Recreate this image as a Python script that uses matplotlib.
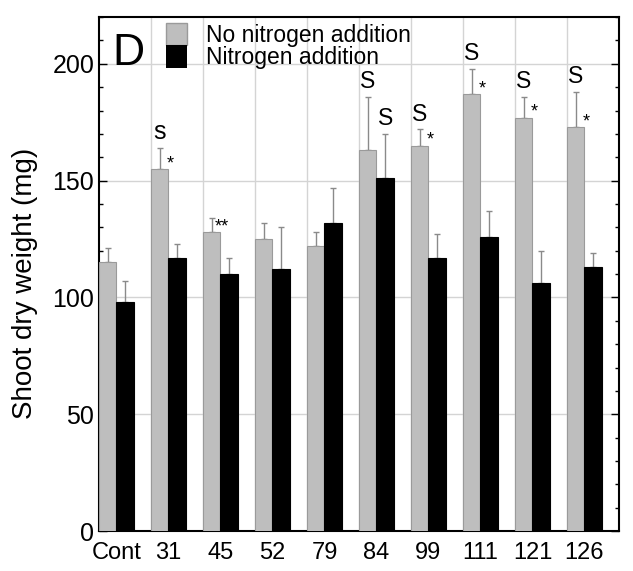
import matplotlib.pyplot as plt
import numpy as np
from matplotlib.ticker import MultipleLocator
from matplotlib.patches import Patch

plt.rcParams['font.family'] = ['Liberation Sans', 'DejaVu Sans']

lines = ['Cont', '31', '45', '52', '79', '84', '99', '111', '121', '126']
no_n = [115, 155, 128, 125, 122, 163, 165, 187, 177, 173]
no_n_err = [6, 9, 6, 7, 6, 23, 7, 11, 9, 15]
with_n = [98, 117, 110, 112, 132, 151, 117, 126, 106, 113]
with_n_err = [9, 6, 7, 18, 15, 19, 10, 11, 14, 6]
# significance marks: above each bar and next to the grey bar
mark_no_n = ['', 's', '', '', '', 'S', 'S', 'S', 'S', 'S']
mark_with_n = ['', '', '', '', '', 'S', '', '', '', '']
stars = ['', '*', '**', '', '', '', '*', '*', '*', '*']

fig = plt.figure(figsize=(6.33, 5.71), dpi=100)
ax = fig.add_axes([0.1564, 0.070, 0.8216, 0.900])

x = np.arange(len(lines))
w = 0.335
grey = '#bebebe'
ax.bar(x + w / 2, no_n, w, color=grey, edgecolor='#9a9a9a', linewidth=0.8, zorder=3)
ax.bar(x + 1.5 * w, with_n, w, color='black', edgecolor='black', linewidth=0.8, zorder=3)
ax.errorbar(x + w / 2, no_n, yerr=[np.zeros(len(x)), no_n_err], fmt='none',
            ecolor='#8a8a8a', elinewidth=1, capsize=2.3, capthick=1, zorder=2)
ax.errorbar(x + 1.5 * w, with_n, yerr=[np.zeros(len(x)), with_n_err], fmt='none',
            ecolor='#8a8a8a', elinewidth=1, capsize=2.3, capthick=1, zorder=2)

for i in range(len(x)):
    if mark_no_n[i]:
        fs = 18 if mark_no_n[i] == 's' else 16.5
        ax.text(x[i] + w / 2, no_n[i] + no_n_err[i] + 1.5, mark_no_n[i],
                ha='center', va='bottom', fontsize=fs)
    if mark_with_n[i]:
        ax.text(x[i] + 1.5 * w, with_n[i] + with_n_err[i] + 1.5, mark_with_n[i],
                ha='center', va='bottom', fontsize=16.5)
    if stars[i]:
        ax.text(x[i] + w + 0.03, no_n[i] + 0.3, stars[i],
                ha='center', va='baseline', fontsize=13)

ax.set_xlim(0, 10)
ax.set_ylim(0, 220)
ax.set_xticks(x + w)
ax.set_xticklabels(lines, fontsize=17)
ax.tick_params(axis='x', length=0, pad=8)
ax.set_yticks([0, 50, 100, 150, 200])
ax.yaxis.set_minor_locator(MultipleLocator(10))
ax.tick_params(axis='y', which='both', direction='in', left=True, right=True, labelsize=18)
ax.tick_params(axis='y', which='major', length=6, width=1)
ax.tick_params(axis='y', which='minor', length=3, width=1)
ax.set_xticks(np.arange(1, 10), minor=True)
ax.tick_params(axis='x', which='minor', length=0)
ax.grid(True, which='major', axis='y', color='#d4d4d4', linewidth=1, zorder=0)
ax.grid(True, which='minor', axis='x', color='#d4d4d4', linewidth=1, zorder=0)
for s in ax.spines.values():
    s.set_linewidth(1.5)

ax.set_ylabel('Shoot dry weight (mg)', fontsize=20)
ax.yaxis.set_label_coords(-0.117, 0.482)

ax.text(0.25, 204.5, 'D', fontsize=32, ha='left', va='center')
handles = [Patch(facecolor=grey, edgecolor='#9a9a9a'), Patch(facecolor='black')]
ax.legend(handles, ['No nitrogen addition', 'Nitrogen addition'], loc='upper left',
          bbox_to_anchor=(0.129, 0.989), frameon=False, fontsize=16.5,
          handlelength=0.92, handleheight=1.12, handletextpad=0.83, labelspacing=-0.06,
          borderaxespad=0, borderpad=0)

fig.savefig('out.png', dpi=100)
